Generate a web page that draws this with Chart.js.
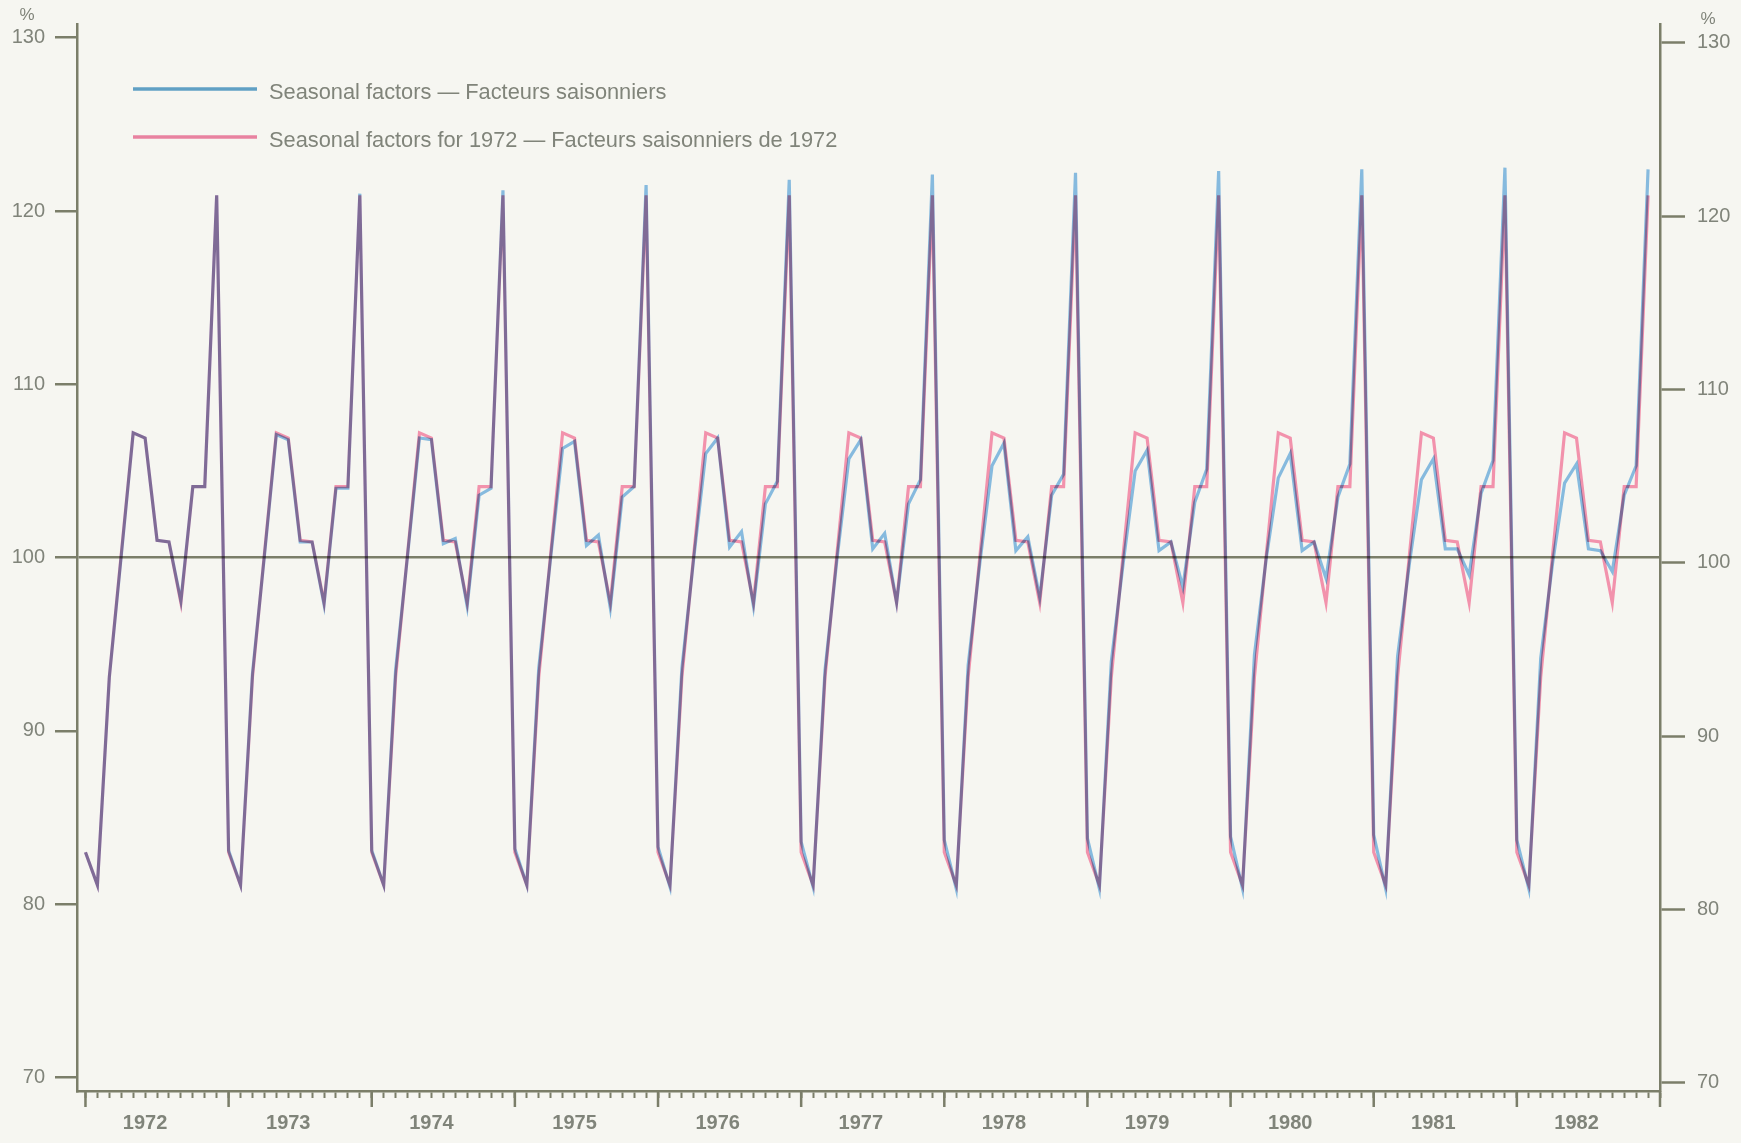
<!DOCTYPE html>
<html>
<head>
<meta charset="utf-8">
<script src="https://cdn.jsdelivr.net/npm/chart.js@4.4.1/dist/chart.umd.min.js"></script>
<style>
  html, body { margin: 0; padding: 0; background: #f6f6f1; }
  canvas { display: block; }
</style>
</head>
<body>
<canvas id="chart" width="1741" height="1143"></canvas>
<script>
// ---------- DATA ----------
const years = [1972, 1973, 1974, 1975, 1976, 1977, 1978, 1979, 1980, 1981, 1982];
const yTickValues = [70, 80, 90, 100, 110, 120, 130];

// Seasonal factors for 1972 (Jan..Dec), shown for every year
const factors1972 = [83.0, 81.1, 93.1, 100.2, 107.2, 106.9, 101.0, 100.9, 97.4, 104.1, 104.1, 120.9];

// Seasonal factors (Jan..Dec) by year
const seasonal1972 = [83.0, 81.1, 93.1, 100.1, 107.2, 106.9, 101.0, 100.9, 97.5, 104.1, 104.1, 120.9];
const seasonal1973 = [83.1, 81.1, 93.3, 100.1, 107.1, 106.8, 100.9, 100.9, 97.3, 104.0, 104.0, 121.0];
const seasonal1974 = [83.1, 81.1, 93.5, 100.1, 106.9, 106.8, 100.8, 101.1, 97.2, 103.6, 104.0, 121.2];
const seasonal1975 = [83.2, 81.1, 93.6, 100.0, 106.3, 106.7, 100.7, 101.3, 97.1, 103.5, 104.1, 121.5];
const seasonal1976 = [83.3, 81.0, 93.6, 100.0, 106.0, 106.9, 100.6, 101.5, 97.2, 103.1, 104.4, 121.8];
const seasonal1977 = [83.6, 81.0, 93.5, 99.9, 105.7, 106.8, 100.5, 101.4, 97.4, 103.1, 104.5, 122.1];
const seasonal1978 = [83.7, 80.9, 93.8, 99.8, 105.3, 106.6, 100.4, 101.2, 97.7, 103.6, 104.8, 122.2];
const seasonal1979 = [83.8, 80.9, 94.0, 99.7, 105.0, 106.2, 100.4, 100.9, 98.3, 103.2, 105.1, 122.3];
const seasonal1980 = [83.9, 80.9, 94.4, 100.0, 104.6, 106.0, 100.4, 100.9, 98.8, 103.5, 105.4, 122.4];
const seasonal1981 = [84.0, 80.9, 94.3, 99.7, 104.5, 105.7, 100.5, 100.5, 99.0, 103.7, 105.6, 122.5];
const seasonal1982 = [83.7, 80.9, 94.2, 99.7, 104.3, 105.4, 100.5, 100.4, 99.2, 103.6, 105.3, 122.4];

const seriesLabels = [
  'Seasonal factors \u2014 Facteurs saisonniers',
  'Seasonal factors for 1972 \u2014 Facteurs saisonniers de 1972'
];

// ---------- BUILD ----------
const seasonalByYear = [seasonal1972, seasonal1973, seasonal1974, seasonal1975, seasonal1976,
  seasonal1977, seasonal1978, seasonal1979, seasonal1980, seasonal1981, seasonal1982];

const bluePoints = [];
const pinkPoints = [];
seasonalByYear.forEach((arr, yi) => {
  arr.forEach((v, m) => bluePoints.push({ x: yi * 12 + m, y: v }));
  factors1972.forEach((v, m) => pinkPoints.push({ x: yi * 12 + m, y: v }));
});

const AXIS = '#7b7e69';
const TEXT = '#80847a';
const BLUE = 'rgb(134,186,222)';
const PINK = 'rgb(242,146,172)';
const FONT = '"Liberation Sans", Arial, sans-serif';

const multiplyPlugin = {
  id: 'multiply',
  beforeDatasetDraw(chart) { chart.ctx.save(); chart.ctx.globalCompositeOperation = 'multiply'; },
  afterDatasetDraw(chart) { chart.ctx.restore(); }
};

const decorPlugin = {
  id: 'decor',
  afterDraw(chart) {
    const ctx = chart.ctx;
    const xs = chart.scales.x;
    // year tick marks (longer)
    ctx.save();
    ctx.strokeStyle = AXIS;
    ctx.lineWidth = 2.5;
    ctx.beginPath();
    for (let k = 0; k <= years.length; k++) {
      const px = xs.getPixelForValue(k * 12);
      ctx.moveTo(px, xs.top);
      ctx.lineTo(px, xs.top + 16);
    }
    ctx.stroke();
    // percent signs
    ctx.fillStyle = TEXT;
    ctx.font = '17px ' + FONT;
    ctx.textAlign = 'center';
    ctx.textBaseline = 'middle';
    ctx.fillText('%', 27, 15);
    ctx.fillText('%', 1708, 19);
    // legend
    const ds = chart.data.datasets;
    const rows = [91, 139];
    ctx.textAlign = 'left';
    ctx.font = '21.8px ' + FONT;
    ds.forEach((d, i) => {
      ctx.strokeStyle = d.legendColor;
      ctx.lineWidth = 3.5;
      ctx.beginPath();
      ctx.moveTo(133, rows[i] - 2);
      ctx.lineTo(257, rows[i] - 2);
      ctx.stroke();
      ctx.fillStyle = TEXT;
      ctx.fillText(d.label, 269, rows[i] + 2);
    });
    ctx.restore();
  }
};

new Chart(document.getElementById('chart'), {
  type: 'line',
  data: {
    datasets: [
      { label: seriesLabels[0], data: bluePoints, borderColor: BLUE, legendColor: 'rgb(96,160,196)',
        borderWidth: 3.2, pointRadius: 0, tension: 0, yAxisID: 'y' },
      { label: seriesLabels[1], data: pinkPoints, borderColor: PINK, legendColor: 'rgb(232,130,160)',
        borderWidth: 3.2, pointRadius: 0, tension: 0, yAxisID: 'y' }
    ]
  },
  options: {
    responsive: false,
    devicePixelRatio: 1,
    animation: false,
    layout: { padding: { top: 23, left: 0, right: 0, bottom: 0 } },
    plugins: { legend: { display: false }, tooltip: { enabled: false } },
    scales: {
      x: {
        type: 'linear', position: 'bottom', min: -0.71, max: 132,
        afterBuildTicks: s => { const t = []; for (let i = 0; i <= years.length * 12; i++) t.push({ value: i }); s.ticks = t; },
        afterFit: s => { s.height = 52; },
        ticks: {
          autoSkip: false, maxRotation: 0, minRotation: 0, padding: 13, color: TEXT,
          font: { family: FONT, size: 20, weight: 'bold' },
          callback: v => (v % 12 === 5 && v < years.length * 12) ? String(years[(v - 5) / 12]) : ''
        },
        grid: { drawOnChartArea: false, drawTicks: true, tickLength: 7, tickColor: AXIS, tickWidth: 2 },
        border: { display: true, color: AXIS, width: 2.5 }
      },
      y: {
        type: 'linear', position: 'left', min: 69.22, max: 130.79,
        afterBuildTicks: s => { s.ticks = yTickValues.map(v => ({ value: v })); },
        afterFit: s => { s.width = 77; },
        ticks: { padding: 10, color: TEXT, font: { family: FONT, size: 20 } },
        grid: {
          drawOnChartArea: true, drawTicks: true, tickLength: 22, tickColor: AXIS, tickWidth: 2.5,
          color: c => (c.tick && c.tick.value === 100) ? AXIS : 'rgba(0,0,0,0)', lineWidth: 2.5
        },
        border: { display: true, color: AXIS, width: 2.5 }
      },
      y2: {
        type: 'linear', position: 'right', min: 69.52, max: 131.09,
        afterBuildTicks: s => { s.ticks = yTickValues.map(v => ({ value: v })); },
        afterFit: s => { s.width = 81; },
        ticks: { padding: 12, color: TEXT, font: { family: FONT, size: 20 } },
        grid: { drawOnChartArea: false, drawTicks: true, tickLength: 25, tickColor: AXIS, tickWidth: 2.5 },
        border: { display: true, color: AXIS, width: 2.5 }
      }
    }
  },
  plugins: [multiplyPlugin, decorPlugin]
});
</script>
</body>
</html>
